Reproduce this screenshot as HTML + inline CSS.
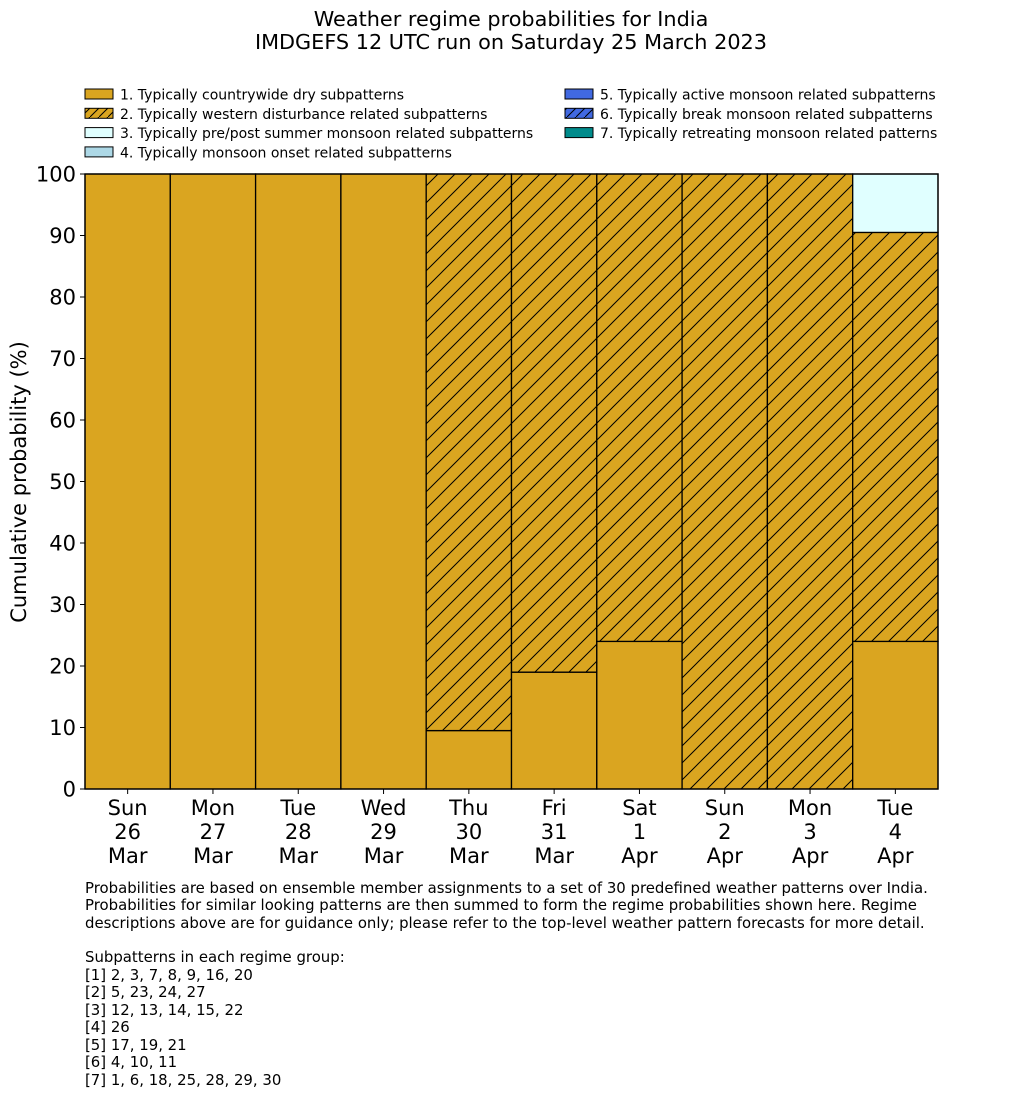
<!DOCTYPE html>
<html><head><meta charset="utf-8"><style>
body{margin:0;background:#fff;font-family:"DejaVu Sans","Liberation Sans",sans-serif}
svg text{font-family:"DejaVu Sans","Liberation Sans",sans-serif}
</style></head><body>
<svg id="chart" width="1033" height="1114" xmlns="http://www.w3.org/2000/svg">
<defs>
<pattern id="hatch" patternUnits="userSpaceOnUse" width="17" height="17">
<rect width="17" height="17" fill="#daa520"/>
<path d="M-1,18 L18,-1 M-5,5 L5,-5 M12,22 L22,12" stroke="#000" stroke-width="1"/>
</pattern>
<pattern id="hatchs" patternUnits="userSpaceOnUse" width="9" height="9">
<rect width="9" height="9" fill="#daa520"/>
<path d="M-1,10 L10,-1" stroke="#000" stroke-width="1"/>
</pattern>
<pattern id="hatchb" patternUnits="userSpaceOnUse" width="9" height="9">
<rect width="9" height="9" fill="#4169e1"/>
<path d="M-1,10 L10,-1" stroke="#000" stroke-width="1"/>
</pattern>
</defs>
<text x="511" y="26" font-size="20.8" text-anchor="middle">Weather regime probabilities for India</text>
<text x="511" y="49" font-size="20.8" text-anchor="middle">IMDGEFS 12 UTC run on Saturday 25 March 2023</text>
<g id="legend" font-size="14"></g>
<g id="bars"></g>
<g id="axes"></g>
<text transform="translate(26,482) rotate(-90)" font-size="21" text-anchor="middle">Cumulative probability (%)</text>
<g font-size="14.9">
<text x="85" y="893">Probabilities are based on ensemble member assignments to a set of 30 predefined weather patterns over India.</text>
<text x="85" y="910">Probabilities for similar looking patterns are then summed to form the regime probabilities shown here. Regime</text>
<text x="85" y="928">descriptions above are for guidance only; please refer to the top-level weather pattern forecasts for more detail.</text>
<text x="85" y="962">Subpatterns in each regime group:</text>
<text x="85" y="980">[1] 2, 3, 7, 8, 9, 16, 20</text>
<text x="85" y="997">[2] 5, 23, 24, 27</text>
<text x="85" y="1015">[3] 12, 13, 14, 15, 22</text>
<text x="85" y="1032">[4] 26</text>
<text x="85" y="1050">[5] 17, 19, 21</text>
<text x="85" y="1067">[6] 4, 10, 11</text>
<text x="85" y="1085">[7] 1, 6, 18, 25, 28, 29, 30</text>
</g>
</svg>
<script>
const days=["Sun","Mon","Tue","Wed","Thu","Fri","Sat","Sun","Mon","Tue"];
const dates=["26","27","28","29","30","31","1","2","3","4"];
const months=["Mar","Mar","Mar","Mar","Mar","Mar","Apr","Apr","Apr","Apr"];
const regime1=[100,100,100,100,9.5,19,24,0,0,24];
const regime2=[0,0,0,0,90.5,81,76,100,100,66.5];
const regime3=[0,0,0,0,0,0,0,0,0,9.5];
const yTicks=[0,10,20,30,40,50,60,70,80,90,100];
const legendLabels=["1. Typically countrywide dry subpatterns","2. Typically western disturbance related subpatterns","3. Typically pre/post summer monsoon related subpatterns","4. Typically monsoon onset related subpatterns","5. Typically active monsoon related subpatterns","6. Typically break monsoon related subpatterns","7. Typically retreating monsoon related patterns"];
const legendFills=["#daa520","url(#hatchs)","#e0ffff","#add8e6","#4169e1","url(#hatchb)","#008b8b"];
const NS="http://www.w3.org/2000/svg";
const X0=85,X1=938,Y0=789,Y1=174;
const bw=(X1-X0)/days.length;
const y=v=>Y0-(Y0-Y1)*v/100;
function mk(tag,attrs,parent){const e=document.createElementNS(NS,tag);for(const k in attrs)e.setAttribute(k,attrs[k]);parent.appendChild(e);return e;}
const bars=document.getElementById('bars'),axes=document.getElementById('axes'),leg=document.getElementById('legend');
const series=[[regime1,"#daa520","regime1"],[regime2,"url(#hatch)","regime2"],[regime3,"#e0ffff","regime3"]];
days.forEach((d,i)=>{let base=0;series.forEach(([vals,fill,nm])=>{const v=vals[i];if(v>0){const r=mk('rect',{x:X0+i*bw,y:y(base+v),width:bw,height:y(base)-y(base+v),fill:fill,stroke:'#000','stroke-width':1.3},bars);

}base+=v;});
const cx=X0+(i+0.5)*bw;
mk('line',{x1:cx,x2:cx,y1:Y0,y2:Y0+5,stroke:'#000'},axes);
[days[i],dates[i],months[i]].forEach((s,j)=>{const t=mk('text',{x:cx,y:815+j*24,'font-size':21,'text-anchor':'middle'},axes);t.textContent=s;

});});
mk('rect',{x:X0,y:Y1,width:X1-X0,height:Y0-Y1,fill:'none',stroke:'#000','stroke-width':1.3},axes);
yTicks.forEach(v=>{mk('line',{x1:X0-5,x2:X0,y1:y(v),y2:y(v),stroke:'#000'},axes);const t=mk('text',{x:X0-9,y:y(v)+7.5,'font-size':21,'text-anchor':'end'},axes);t.textContent=v;

});
legendLabels.forEach((s,i)=>{const col=i<4?0:1,row=i<4?i:i-4;const lx=col?565:85,ly=89+row*19.3;
const g=mk('g',{},leg);


mk('rect',{x:lx,y:ly,width:28,height:10,fill:legendFills[i],stroke:'#000','stroke-width':1},g);
const t=mk('text',{x:lx+35,y:ly+10.5},g);t.textContent=s;});
</script>
</body></html>
